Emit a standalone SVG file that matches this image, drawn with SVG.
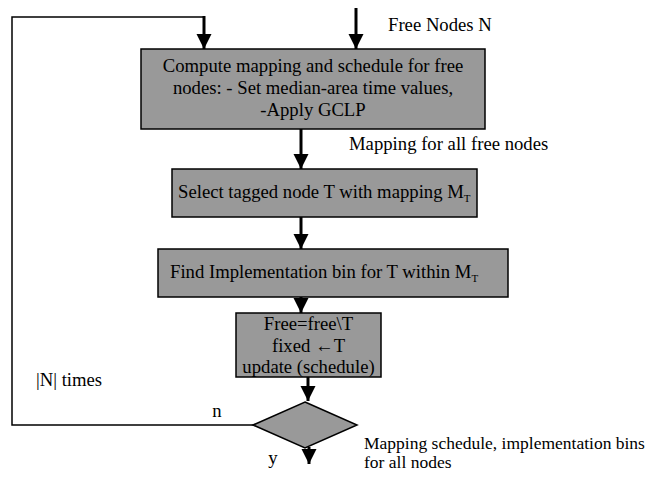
<svg xmlns="http://www.w3.org/2000/svg" width="658" height="482" viewBox="0 0 658 482">
  <defs>
    <marker id="head" viewBox="0 0 10 10" refX="10" refY="5" markerWidth="5" markerHeight="5.3" markerUnits="strokeWidth" orient="auto">
      <path d="M0,0 L10,5 L0,10 Z" fill="#000"/>
    </marker>
    <style>
      text { font-family: "Liberation Serif", "Times New Roman", serif; font-size: 18.7px; fill: #000; }
      .box { fill: #999999; stroke: #000; stroke-width: 1.5; }
      .flow { stroke: #000; stroke-width: 3; fill: none; marker-end: url(#head); }
      .loop { stroke: #000; stroke-width: 1.5; fill: none; }
      .sub { font-size: 11px; }
      .mid { text-anchor: middle; }
    </style>
  </defs>
  <rect width="658" height="482" fill="#fff"/>

  <g id="connectors">
    <polyline class="loop" points="253,425 12,425 12,17 204,17"/>
    <line class="flow" x1="204" y1="16" x2="204" y2="49"/>
    <line class="flow" x1="356" y1="8" x2="356" y2="49"/>
    <line class="flow" x1="301" y1="129" x2="301" y2="169"/>
    <line class="flow" x1="301" y1="217" x2="301" y2="249"/>
    <line class="flow" x1="301" y1="297" x2="301" y2="313"/>
    <line class="flow" x1="308" y1="377" x2="308" y2="401"/>
    <line class="flow" x1="309" y1="447" x2="309" y2="464"/>
  </g>

  <g id="compute">
    <rect class="box" x="141" y="49" width="344" height="80"/>
    <text class="mid" x="313" y="72">Compute mapping and schedule for free</text>
    <text class="mid" x="313" y="94">nodes: - Set median-area time values,</text>
    <text class="mid" x="313" y="116">-Apply GCLP</text>
  </g>

  <g id="select">
    <rect class="box" x="172" y="169" width="305" height="48"/>
    <text x="178" y="198">Select tagged node T with mapping M<tspan class="sub" dy="4">T</tspan></text>
  </g>

  <g id="find">
    <rect class="box" x="158" y="249" width="350" height="48"/>
    <text x="170" y="278">Find Implementation bin for T within M<tspan class="sub" dy="4">T</tspan></text>
  </g>

  <g id="update">
    <rect class="box" x="236" y="313" width="145" height="64"/>
    <text class="mid" x="308.5" y="330">Free=free\T</text>
    <text class="mid" x="308.5" y="352">fixed ←T</text>
    <text class="mid" x="308.5" y="373">update (schedule)</text>
  </g>

  <g id="decision">
    <polygon class="box" points="305,402 357,425 305,448 253,425"/>
  </g>

  <g id="labels">
    <text x="388" y="31">Free Nodes N</text>
    <text x="349" y="150">Mapping for all free nodes</text>
    <text x="36" y="386">|N| times</text>
    <text class="mid" x="217" y="417">n</text>
    <text class="mid" x="273" y="464">y</text>
    <text x="364" y="449" style="font-size:17.5px">Mapping schedule, implementation bins</text>
    <text x="364" y="468" style="font-size:17.5px">for all nodes</text>
  </g>
</svg>
